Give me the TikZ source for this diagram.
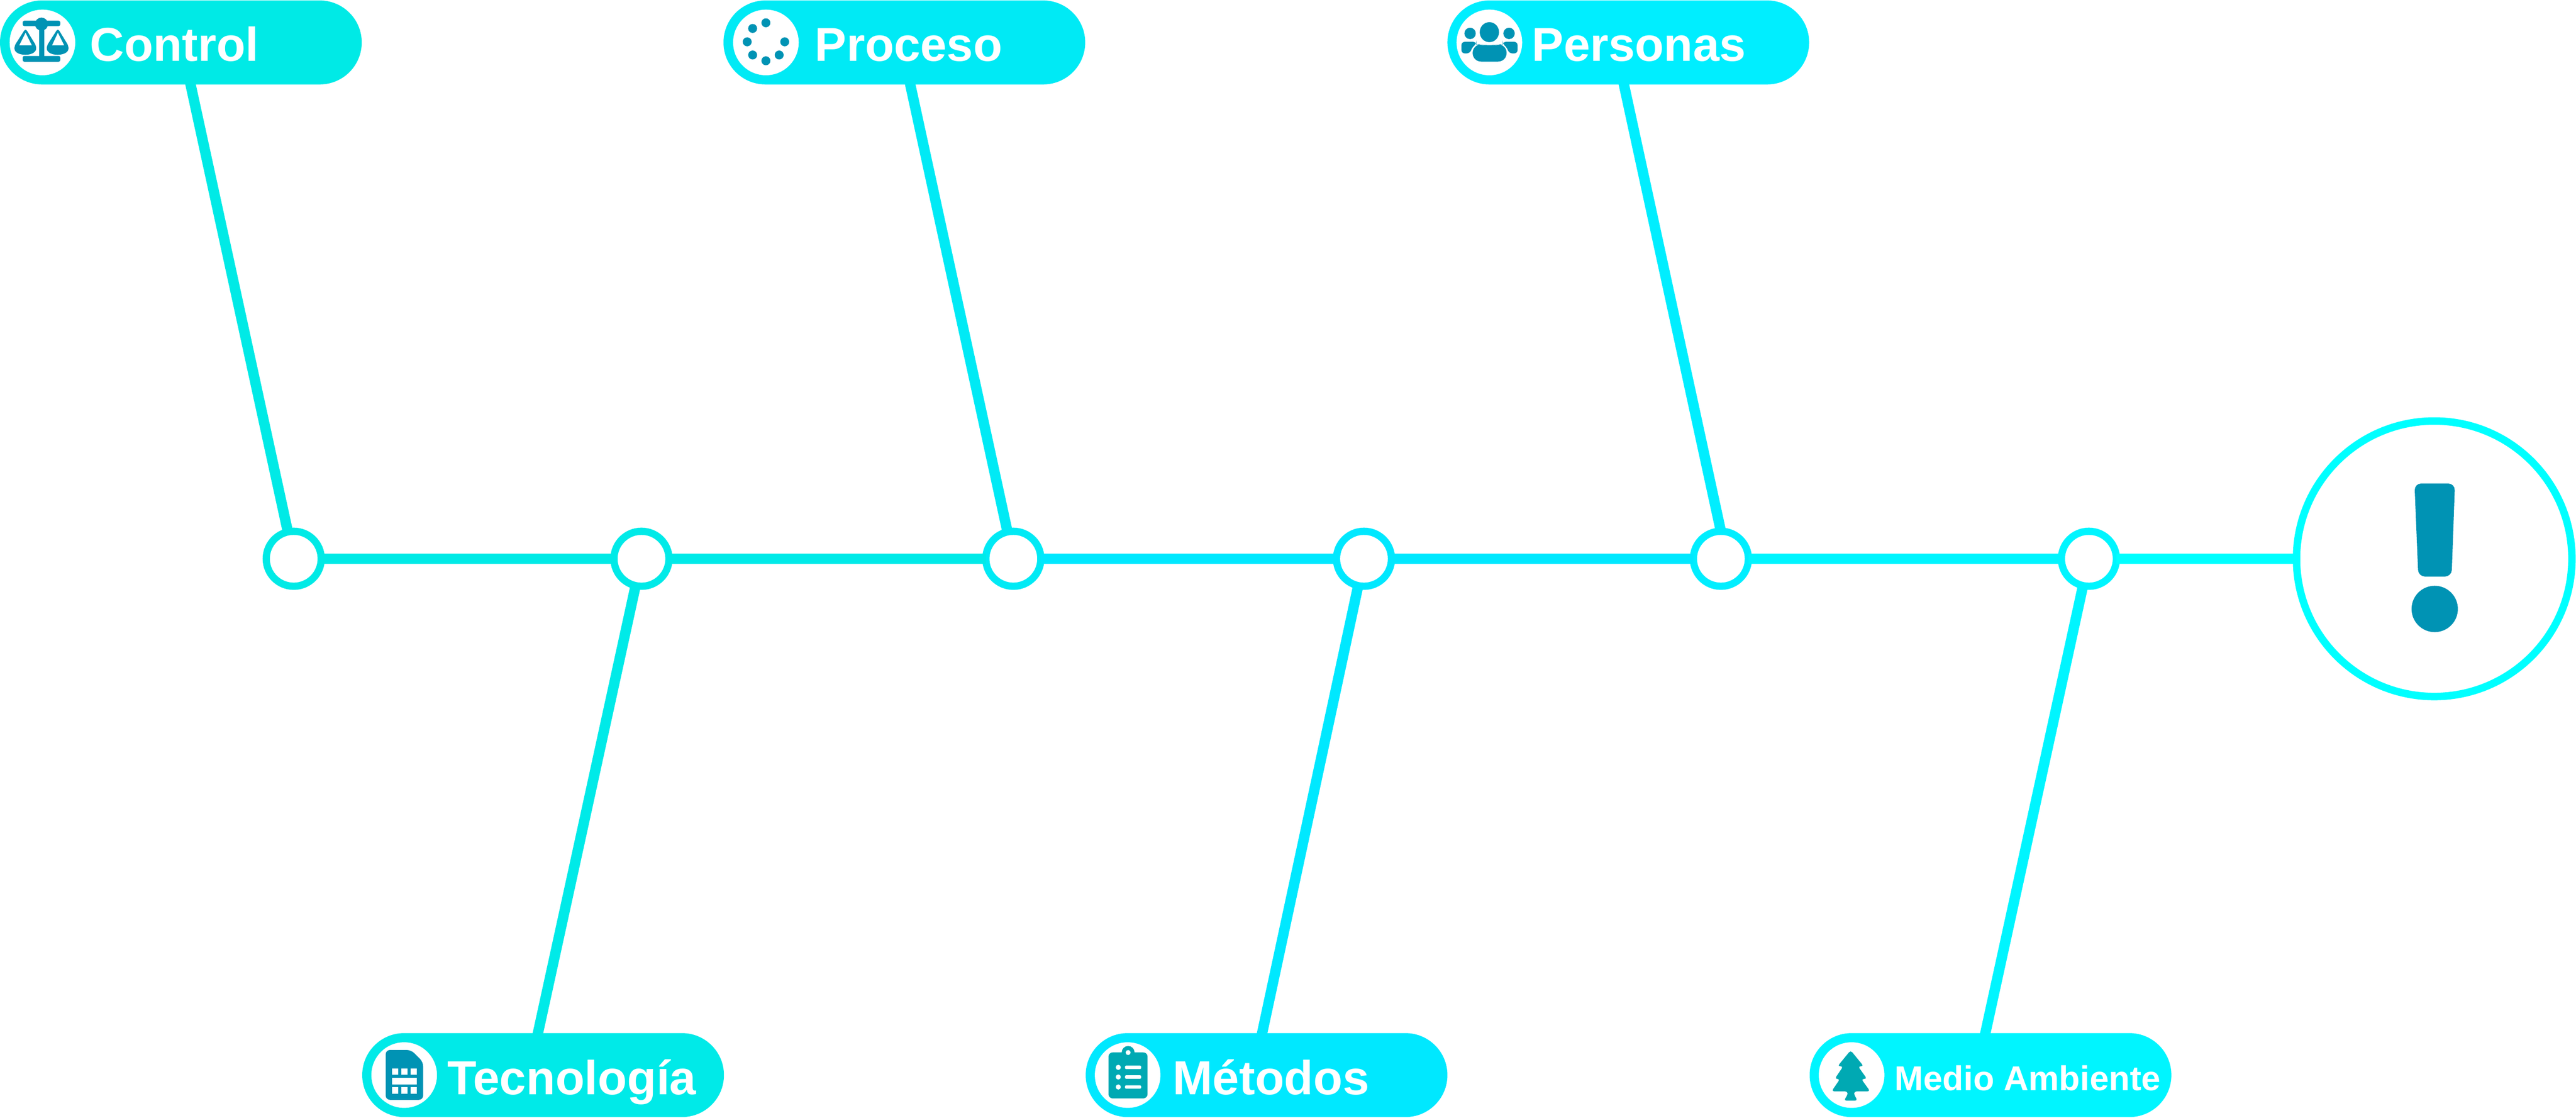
\documentclass[tikz,border=0pt]{standalone}
\usepackage{fontspec}
\usepackage{xcolor}
\usetikzlibrary{positioning}
\setmainfont{Liberation Sans}
\definecolor{fishA}{HTML}{00EAE6}
\definecolor{fishB}{HTML}{00EAE8}
\definecolor{fishC}{HTML}{00EAF5}
\definecolor{fishD}{HTML}{00E8FF}
\definecolor{fishE}{HTML}{00EEFF}
\definecolor{fishF}{HTML}{00F5FF}
\definecolor{fishG}{HTML}{00FFFF}
\definecolor{iconblue}{HTML}{0093B4}
\definecolor{iconteal}{HTML}{00A9B3}
\tikzset{
  pill/.style={rectangle, rounded corners=0.87cm, minimum width=7.5cm, minimum height=1.74cm, inner sep=0pt, outer sep=0pt},
  badge/.style={circle, fill=white, minimum size=1.36cm, inner sep=0pt},
  ring/.style={circle, draw, fill=white, line width=0.15cm, minimum size=1.14cm, inner sep=0pt, outer sep=0pt},
  bigring/.style={circle, draw=fishG, fill=white, line width=0.155cm, minimum size=5.71cm, inner sep=0pt, outer sep=0pt},
  pilltext/.style={anchor=base west, text=white, font=\bfseries, inner sep=0pt},
  bone/.style={line width=0.215cm},
  rib/.style={line width=0.215cm, shorten <=-2pt}
}
% icons, all around the badge centre
\newcommand{\scaleicon}{%
\fill[iconblue, rounded corners=1pt] (-0.41,0.34) rectangle (0.37,0.45);
\fill[iconblue, rounded corners=1pt] (-0.41,-0.40) rectangle (0.37,-0.28);
\fill[iconblue] (-0.07,-0.30) rectangle (0.04,0.30);
\fill[iconblue] (-0.02,0.38) circle (0.135);
\fill[iconblue, rounded corners=1.5pt] (-0.35,0.29) -- (-0.58,-0.07) .. controls (-0.58,-0.30) and (-0.13,-0.30) .. (-0.13,-0.07) -- cycle;
\fill[white] (-0.48,-0.06) -- (-0.22,-0.06) -- (-0.35,0.20) -- cycle;
\fill[iconblue, rounded corners=1.5pt] (0.32,0.29) -- (0.09,-0.07) .. controls (0.09,-0.30) and (0.54,-0.30) .. (0.54,-0.07) -- cycle;
\fill[white] (0.20,-0.06) -- (0.45,-0.06) -- (0.32,0.20) -- cycle;
}
\newcommand{\dotsicon}{%
\fill[iconblue] (0,0.407) circle (0.093);
\fill[iconblue] (-0.275,0.29) circle (0.093);
\fill[iconblue] (-0.388,0.013) circle (0.093);
\fill[iconblue] (-0.275,-0.26) circle (0.093);
\fill[iconblue] (0,-0.38) circle (0.093);
\fill[iconblue] (0.275,-0.26) circle (0.093);
\fill[iconblue] (0.39,0.013) circle (0.093);
}
\newcommand{\peopleicon}{%
\fill[iconblue] (0,0.213) ellipse (0.20 and 0.207);
\fill[iconblue] (-0.40,0.187) circle (0.118);
\fill[iconblue] (0.408,0.187) circle (0.118);
\fill[iconblue, rounded corners=2pt] (-0.58,-0.227) -- (-0.58,0.013) -- (-0.27,0.013) -- (-0.27,-0.03) -- (-0.36,-0.10) -- (-0.40,-0.227) -- cycle;
\fill[iconblue, rounded corners=2pt] (0.585,-0.227) -- (0.585,0.013) -- (0.275,0.013) -- (0.275,-0.03) -- (0.365,-0.10) -- (0.405,-0.227) -- cycle;
\fill[iconblue, rounded corners=5pt] (-0.347,-0.397) -- (-0.347,-0.04) -- (-0.17,-0.04) -- (0,-0.08) -- (0.17,-0.04) -- (0.357,-0.04) -- (0.357,-0.397) -- cycle;
}
\newcommand{\simicon}{%
\fill[iconblue, rounded corners=2.5pt] (-0.383,-0.513) -- (-0.383,0.52) -- (0.143,0.52) -- (0.393,0.27) -- (0.393,-0.513) -- cycle;
\fill[white] (-0.255,0.003) rectangle (-0.122,0.133);
\fill[white] (-0.061,0.003) rectangle (0.071,0.133);
\fill[white] (0.138,0.003) rectangle (0.266,0.133);
\fill[white] (-0.255,-0.19) rectangle (0.266,-0.06);
\fill[white] (-0.255,-0.387) rectangle (-0.122,-0.253);
\fill[white] (-0.061,-0.387) rectangle (0.071,-0.253);
\fill[white] (0.138,-0.387) rectangle (0.266,-0.253);
}
\newcommand{\clipicon}{%
\fill[iconteal, rounded corners=2.5pt] (-0.398,-0.483) rectangle (0.413,0.47);
\fill[iconteal] (0.01,0.47) circle (0.133);
\fill[white] (0.01,0.467) circle (0.052);
\fill[white] (-0.194,0.16) circle (0.053);
\fill[white] (-0.194,-0.04) circle (0.053);
\fill[white] (-0.194,-0.247) circle (0.053);
\fill[white, rounded corners=0.5pt] (-0.056,0.125) rectangle (0.28,0.195);
\fill[white, rounded corners=0.5pt] (-0.056,-0.075) rectangle (0.28,-0.005);
\fill[white, rounded corners=0.5pt] (-0.056,-0.282) rectangle (0.28,-0.212);
}
\newcommand{\treeicon}{%
\fill[iconteal, rounded corners=1.5pt] (-0.02,0.513) -- (-0.29,0.183) -- (-0.173,0.183) -- (-0.35,-0.08) -- (-0.24,-0.08) -- (-0.415,-0.337) -- (-0.08,-0.337) -- (-0.08,-0.40) -- (-0.16,-0.53) -- (0.125,-0.53) -- (0.05,-0.40) -- (0.05,-0.337) -- (0.385,-0.337) -- (0.20,-0.08) -- (0.32,-0.08) -- (0.133,0.183) -- (0.25,0.183) -- cycle;
}

\begin{document}
\begin{tikzpicture}
\useasboundingbox (0,0) rectangle (53.41,23.16);
% heads along the top
\node[pill, fill=fishA] (control) at (3.75,22.28) {};
\node[pill, fill=fishC] (proceso) at (18.75,22.28) {};
\node[pill, fill=fishE] (personas) at (33.76,22.28) {};
% heads along the bottom
\node[pill, fill=fishB] (tecnologia) at (11.26,0.88) {};
\node[pill, fill=fishD] (metodos) at (26.26,0.88) {};
\node[pill, fill=fishF] (medio) at (41.27,0.88) {};
% white badges
\node[badge] (controlbadge) at (0.88,22.28) {};
\node[badge] (procesobadge) at (15.88,22.28) {};
\node[badge] (personasbadge) at (30.88,22.28) {};
\node[badge] (tecnologiabadge) at (8.38,0.88) {};
\node[badge] (metodosbadge) at (23.38,0.88) {};
\node[badge] (mediobadge) at (38.39,0.88) {};
% labels
\node[pilltext, font=\bfseries\fontsize{28}{30}\selectfont] (controltext) at (1.86,21.89) {Control};
\node[pilltext, font=\bfseries\fontsize{28}{30}\selectfont] (procesotext) at (16.89,21.89) {Proceso};
\node[pilltext, font=\bfseries\fontsize{28}{30}\selectfont] (personastext) at (31.76,21.89) {Personas};
\node[pilltext, font=\bfseries\fontsize{28.2}{30}\selectfont] (tecnologiatext) at (9.27,0.48) {Tecnología};
\node[pilltext, font=\bfseries\fontsize{28.2}{30}\selectfont] (metodostext) at (24.31,0.48) {Métodos};
\node[pilltext, font=\bfseries\fontsize{20.3}{24}\selectfont] (mediotext) at (39.28,0.56) {Medio Ambiente};
% spine nodes
\node[ring, draw=fishA] (n1) at (6.09,11.58) {};
\node[ring, draw=fishB] (n2) at (13.30,11.58) {};
\node[ring, draw=fishC] (n3) at (21.01,11.58) {};
\node[ring, draw=fishD] (n4) at (28.28,11.58) {};
\node[ring, draw=fishE] (n5) at (35.68,11.58) {};
\node[ring, draw=fishF] (n6) at (43.31,11.58) {};
\node[bigring] (problem) at (50.47,11.58) {};
% spine
\draw[bone, fishA] (n1) -- (n2);
\draw[bone, fishB] (n2) -- (n3);
\draw[bone, fishD] (n3) -- (n4);
\draw[bone, fishD] (n4) -- (n5);
\draw[bone, fishF] (n5) -- (n6);
\draw[bone, fishG] (n6) -- (problem);
% ribs
\draw[rib, fishA] (control.-77.05) -- (n1);
\draw[rib, fishC] (proceso.-82.15) -- (n3);
\draw[rib, fishE] (personas.-96.56) -- (n5.north);
\draw[rib, fishB] (tecnologia.97.2) -- (n2);
\draw[rib, fishD] (metodos.96.56) -- (n4);
\draw[rib, fishF] (medio.97.2) -- (n6);
% icons
\begin{scope}[shift={(controlbadge)}] \scaleicon \end{scope}
\begin{scope}[shift={(procesobadge)}] \dotsicon \end{scope}
\begin{scope}[shift={(personasbadge)}] \peopleicon \end{scope}
\begin{scope}[shift={(tecnologiabadge)}] \simicon \end{scope}
\begin{scope}[shift={(metodosbadge)}] \clipicon \end{scope}
\begin{scope}[shift={(mediobadge)}] \treeicon \end{scope}
% exclamation mark
\fill[iconblue, rounded corners=0.14cm] (50.06,13.14) -- (50.90,13.14) -- (50.83,11.21) -- (50.14,11.21) -- cycle;
\fill[iconblue] (50.48,10.54) circle (0.48);
\end{tikzpicture}
\end{document}
